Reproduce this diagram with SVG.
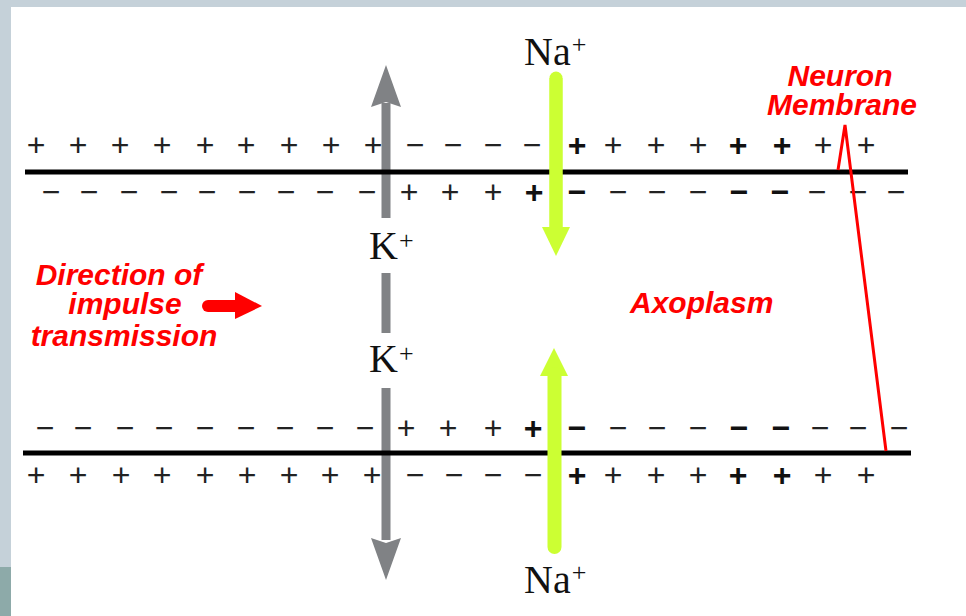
<svg xmlns="http://www.w3.org/2000/svg" width="966" height="616" viewBox="0 0 966 616">
<style>
.ch{font-family:"Liberation Sans",Arial,sans-serif;font-size:32px;fill:#222;text-anchor:middle}
.b{font-weight:bold;fill:#111}
.ion{font-family:"Liberation Serif","Times New Roman",serif;font-size:40px;fill:#111}
.sup{font-size:26px}
.red{font-family:"Liberation Sans",Arial,sans-serif;font-size:30px;font-weight:bold;font-style:italic;fill:#ff0000}
.mem{stroke:#000;stroke-width:5;fill:none}
.kbar{fill:#808285}
.na{stroke:#ccff33;fill:none}
.nahead{fill:#ccff33}
</style>
<g id="background">
<rect x="0" y="0" width="966" height="616" fill="#c5d1d9"/>
<rect x="0" y="567" width="11" height="49" fill="#8daaa9"/>
<rect x="11" y="7" width="955" height="609" fill="#ffffff"/>
</g>
<g id="connectors">
<g id="k-arrows">
<path class="kbar" d="M386,65 L401,107 L386,102 L371,107 Z"/>
<rect class="kbar" x="381.5" y="103" width="9" height="115"/>
<rect class="kbar" x="381.5" y="273" width="9" height="60"/>
<rect class="kbar" x="381.5" y="388" width="9" height="152"/>
<path class="kbar" d="M371,538 L386,543 L401,538 L386,580 Z"/>
</g>
</g>
<g id="membrane-top"><line class="mem" x1="25" y1="172" x2="908" y2="172"/></g>
<g id="membrane-bottom"><line class="mem" x1="23" y1="453" x2="911" y2="453"/></g>
<g id="na-arrows">
<line class="na" x1="556" y1="78" x2="556" y2="230" stroke-width="13" stroke-linecap="round"/>
<line class="na" x1="556" y1="78" x2="556" y2="232" stroke-width="13"/>
<path class="nahead" d="M542,227 L570,227 L556,256 Z"/>
<path class="nahead" d="M540,376 L568,376 L554,348 Z"/>
<line class="na" x1="554.5" y1="374" x2="554.5" y2="547" stroke-width="14" stroke-linecap="round"/>
</g>
<g id="charges">
<text class="ch" x="36 78 120 162 205 246 289 331 373 415 453 493 532" y="156">+++++++++−−−−</text>
<text class="ch b" x="577" y="156">+</text>
<text class="ch" x="613 656 698" y="156">+++</text>
<text class="ch b" x="738 782" y="156">++</text>
<text class="ch" x="823 866" y="156">++</text>

<text class="ch" x="51 89 129 169 207 247 286 325 367 409 450 493" y="203">−−−−−−−−−+++</text>
<text class="ch b" x="534 577" y="203">+−</text>
<text class="ch" x="618 657 698" y="203">−−−</text>
<text class="ch b" x="739 780" y="203">−−</text>
<text class="ch" x="817 858 896" y="203">−−−</text>

<text class="ch" x="45 83 125 164 205 246 285 325 365 406 448 493" y="439">−−−−−−−−−+++</text>
<text class="ch b" x="533 577" y="439">+−</text>
<text class="ch" x="618 657 698" y="439">−−−</text>
<text class="ch b" x="739 781" y="439">−−</text>
<text class="ch" x="820 858 899" y="439">−−−</text>

<text class="ch" x="36 78 121 162 205 247 289 330 372 415 454 493 533" y="486">+++++++++−−−−</text>
<text class="ch b" x="577" y="486">+</text>
<text class="ch" x="613 656 698" y="486">+++</text>
<text class="ch b" x="738 782" y="486">++</text>
<text class="ch" x="823 866" y="486">++</text>
</g>
<g id="ion-labels">
<text class="ion" x="524" y="65">Na<tspan class="sup" dx="1" dy="-12">+</tspan></text>
<text class="ion" x="369" y="259">K<tspan class="sup" dx="1" dy="-10">+</tspan></text>
<text class="ion" x="369" y="372">K<tspan class="sup" dx="1" dy="-10">+</tspan></text>
<text class="ion" x="524" y="593">Na<tspan class="sup" dx="1" dy="-12">+</tspan></text>
</g>
<g id="direction">
<text class="red" text-anchor="middle"><tspan x="119" y="285">Direction of</tspan><tspan x="125" y="314">impulse</tspan><tspan x="124" y="346">transmission</tspan></text>
<line x1="208" y1="306" x2="238" y2="306" stroke="#ff0000" stroke-width="12" stroke-linecap="round"/>
<path d="M235,292 L262,306 L235,319 Z" fill="#ff0000"/>
</g>
<g id="axoplasm"><text class="red" x="630" y="313">Axoplasm</text></g>
<g id="neuron-membrane">
<text class="red" text-anchor="middle"><tspan x="840" y="86">Neuron</tspan><tspan x="842" y="115">Membrane</tspan></text>
<polyline points="838,170 845,125 886,451" fill="none" stroke="#ff0000" stroke-width="3" stroke-linejoin="miter"/>
</g>
</svg>
